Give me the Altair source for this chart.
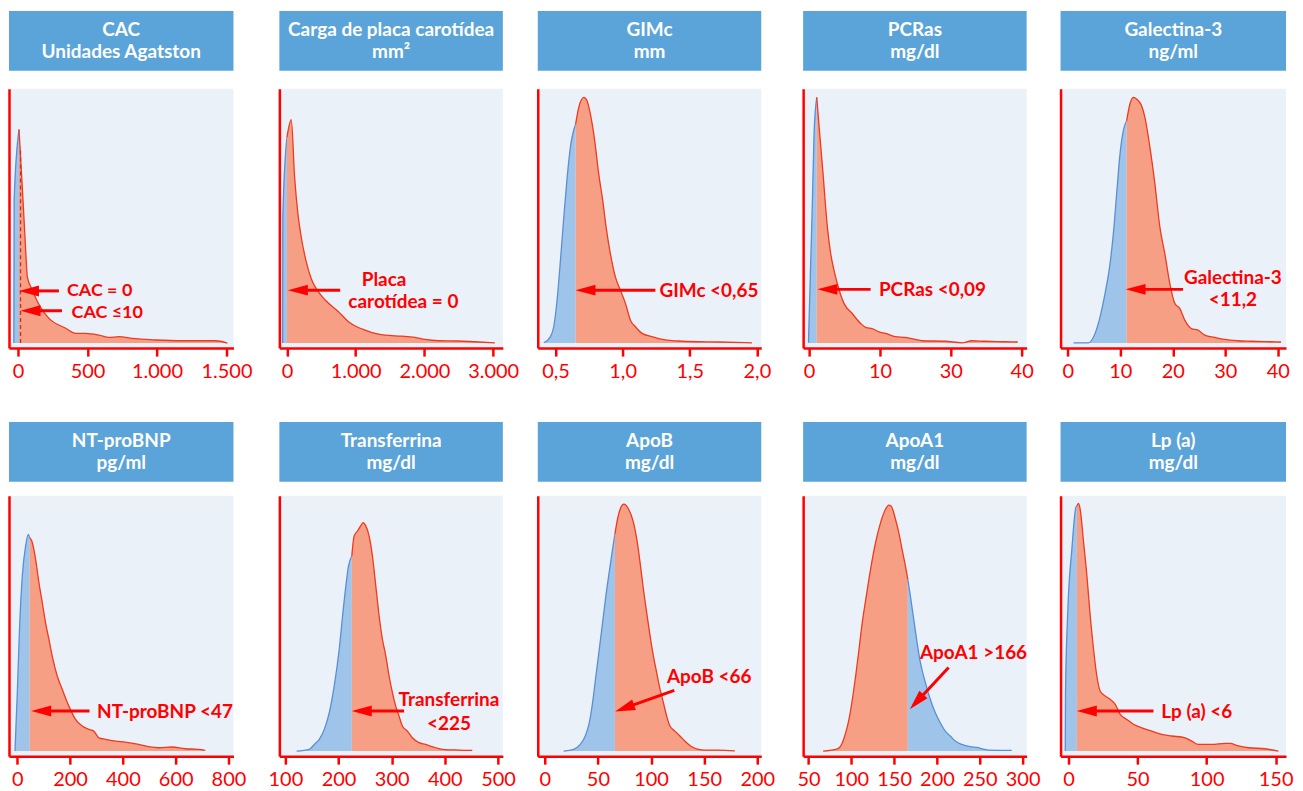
import math
import altair as alt
import pandas as pd

# ---------------- data ----------------
cac_x = [-30, -28, 7, 36, 55, 67, 103, 175, 223, 343, 415, 487, 583, 655, 727, 822, 991, 1183, 1422, 1506]
cac_y = [0, 56, 84, 56, 36.5, 26, 20.8, 12.9, 9.7, 5.8, 3.8, 3.8, 3.1, 2.2, 2.5, 1.8, 1.2, 0.9, 0.9, 0]

placa_x = [-62, -60, 0, 63, 112, 160, 208, 276, 354, 436, 557, 750, 896, 1016, 1138, 1283, 1428, 1669,
           1863, 2008, 2202, 2492, 2734, 3024]
placa_y = [0, 49.5, 80.9, 87.8, 65.2, 50.8, 41.7, 32.5, 25.3, 21, 16.9, 12.3, 8.4, 6.4, 5.1, 3.8, 3.1, 2.7,
           2.2, 1.4, 0.9, 0.8, 0.5, 0.1]

gimc_x = [0.413, 0.463, 0.487, 0.512, 0.537, 0.562, 0.587, 0.611, 0.65, 0.673, 0.711, 0.735, 0.760, 0.792,
          0.822, 0.852, 0.877, 0.909, 0.946, 0.983, 1.021, 1.058, 1.095, 1.145, 1.219, 1.318, 1.417, 1.566,
          1.715, 1.963]
gimc_y = [0.1, 2.5, 6.4, 16.9, 32.5, 49.5, 65.2, 77, 86.1, 92.6, 96.6, 95.3, 90, 79.6, 66.5, 56, 45.6, 35.1,
          26, 20.8, 15.6, 9, 6.4, 3.8, 2.5, 1.2, 0.8, 0.5, 0.4, 0.1]

# PCRas axis is not linear: positions 0,10,20,30 are labelled 0,10,30,40
pcr_x = [-0.09, 0.47, 0.70, 1.08, 1.50, 1.97, 2.58, 3.05, 3.52, 3.98, 4.92, 6.09, 7.27, 8.06, 8.91, 9.85,
         10.78, 12.19, 13.6, 15.0, 15.94, 19.22, 21.57, 22.97, 24.85, 27.66, 29.44]
pcr_y = [0.1, 56, 82.2, 96.6, 82.2, 66.5, 45.6, 35.1, 28.6, 23.4, 15.6, 11.6, 7.7, 6.1, 5.7, 4.4, 3.8, 2.5,
         2.2, 1.4, 0.9, 0.7, 0.1, 0.9, 0.7, 0.5, 0.4]

gal_x = [1.08, 3.93, 5.19, 6.14, 7.09, 8.04, 8.67, 9.30, 9.94, 10.57, 11.2, 11.83, 12.47, 13.42, 14.05,
         14.68, 15.63, 16.58, 17.53, 18.48, 19.43, 20.37, 21.32, 22.27, 23.54, 24.80, 26.07, 27.96, 29.86,
         32.39, 34.92, 38.72, 40.61]
gal_y = [0.1, 0.1, 3.8, 10.3, 19.5, 31.2, 43, 58.7, 74.4, 83.5, 87.4, 94, 96.6, 95.3, 93.3, 88.7, 77, 62.6,
         45.6, 35.1, 23.4, 15.6, 13.6, 9, 5.7, 5.1, 3.1, 2.2, 1.4, 0.9, 0.7, 0.5, 0.4]

bnp_x = [-8.7, 0.1, 8.9, 19, 31.6, 41.7, 47, 56.8, 69.4, 82, 94.6, 107, 119.8, 132.4, 151.3, 170.2, 195.4,
         220.6, 245.8, 271, 289.9, 308.8, 334, 371.8, 409.6, 459.9, 497.7, 535.5, 585.9, 636.3, 686.7, 711.9]
bnp_y = [0, 22.9, 49, 68.6, 80.4, 84.9, 83.6, 81.7, 75.1, 66, 58.2, 50.3, 43.8, 37.2, 29.4, 24.2, 17.6,
         12.4, 9.8, 8.5, 7.8, 5.2, 4.6, 3.9, 3.5, 2.6, 1.7, 1.3, 1.6, 0.9, 0.7, 0.3]

trf_x = [121.3, 145, 154.4, 163.8, 173.2, 182.6, 191.9, 201.3, 207.6, 213.8, 218.8, 225, 229.4, 235.7, 241,
         246.3, 251.3, 257.6, 263.8, 270.1, 276.4, 282.6, 288.9, 295.1, 301.4, 307.6, 313.9, 320.1, 329.5,
         338.9, 351.4, 363.9, 376.4, 395.2, 426.5, 451.5]
trf_y = [0, 0.7, 2.6, 4.6, 8.5, 15, 25.5, 39.9, 52.9, 64.7, 72.5, 76.4, 84.3, 86.2, 88, 89.5, 88.2, 84.2,
         76.4, 64.7, 52.9, 43.8, 37.3, 29.4, 22.9, 17.6, 13.7, 9.8, 7.8, 5.2, 3.3, 2.6, 1.7, 0.7, 0.4, 0.3]

apob_x = [17.8, 27.2, 33.4, 38.1, 41.9, 45, 48.1, 51.3, 54.4, 57.5, 60.6, 63.8, 66, 67.8, 71, 74.4, 78.8,
          83.5, 86.6, 89.7, 92.8, 95.9, 99.1, 102.2, 105.3, 108.5, 111.6, 114.7, 117.8, 122.5, 127.2, 131.9,
          136.6, 142.8, 150.7, 163.1, 178.8]
apob_y = [0, 0.7, 2.6, 5.9, 11.1, 19, 29.4, 39.9, 50.3, 60.8, 70, 79.1, 85, 89.5, 94.8, 96.7, 94.8, 89.5,
          83, 73.8, 63.4, 54.2, 45.1, 37.2, 30.7, 24.2, 19, 13.7, 9.8, 7.8, 5.9, 3.9, 2.2, 0.9, 0.4, 0.4, 0.1]

apoa_x = [67.1, 83.8, 89.6, 93.5, 97.3, 101.2, 105.1, 109, 112.8, 117.5, 122.5, 128.3, 134.2, 140, 143.8,
          146.5, 151.6, 155.5, 159.3, 163.2, 166, 169, 172.9, 176.8, 180.7, 186.5, 192.3, 198.1, 203.9,
          209.7, 215.5, 221.4, 229.1, 238.8, 248.5, 252.4, 260.1, 287.2]
apoa_y = [0, 0.9, 3.3, 7.2, 12.4, 20.2, 29.4, 39.8, 50.3, 60.7, 71.2, 81.6, 89.5, 94.7, 96.3, 96, 90.8,
          85.5, 79, 72.5, 67.2, 60.7, 51.6, 42.5, 34.6, 26.8, 20.2, 15, 11.1, 7.8, 5.9, 3.9, 2.6, 1.7, 1.3,
          0.9, 0.4, 0.3]

lpa_x = [-2.4, -2.2, -0.5, 2.4, 5.3, 6.0, 7.2, 8.4, 10.9, 13.3, 15.7, 18.1, 20.5, 22.9, 26.5, 30.1, 33.8,
         37.4, 42.2, 47, 53.1, 60.3, 67.5, 74.8, 84.4, 89.2, 94.1, 103.7, 113.4, 117, 123, 130.2, 142.3, 152]
lpa_y = [0, 22.9, 55.5, 79.1, 95.4, 96, 97, 94.8, 81.7, 68.6, 52.9, 39.9, 29.4, 23.5, 21.6, 20.3, 18.3,
         14.4, 12.4, 10.5, 9.1, 7.8, 6.5, 5.9, 5.2, 3.9, 2.6, 2.6, 3, 3, 2, 1.3, 0.9, 0]

headers = [
    ["CAC", "Unidades Agatston"], ["Carga de placa carotídea", "mm²"], ["GIMc", "mm"],
    ["PCRas", "mg/dl"], ["Galectina-3", "ng/ml"], ["NT-proBNP", "pg/ml"], ["Transferrina", "mg/dl"],
    ["ApoB", "mg/dl"], ["ApoA1", "mg/dl"], ["Lp (a)", "mg/dl"],
]

tick_values = [
    [0, 500, 1000, 1500], [0, 1000, 2000, 3000], [0.5, 1.0, 1.5, 2.0], [0, 10, 20, 30],
    [0, 10, 20, 30, 40], [0, 200, 400, 600, 800], [100, 200, 300, 400, 500], [0, 50, 100, 150, 200],
    [50, 100, 150, 200, 250, 300], [0, 50, 100, 150],
]
tick_labels = [
    ["0", "500", "1.000", "1.500"], ["0", "1.000", "2.000", "3.000"], ["0,5", "1,0", "1,5", "2,0"],
    ["0", "10", "30", "40"], ["0", "10", "20", "30", "40"], ["0", "200", "400", "600", "800"],
    ["100", "200", "300", "400", "500"], ["0", "50", "100", "150", "200"],
    ["50", "100", "150", "200", "250", "300"], ["0", "50", "100", "150"],
]

cutoffs = [7, 0, 0.65, 1.08, 11.2, 47, 225, 66, 166, 6.0]
left_is_blue = [True, True, True, True, True, True, True, True, False, True]

# annotations: arrows (tail_x, tail_y, tip_x, tip_y); labels (text, x, y, align, size)
arrows = [
    [(294, 20.5, 7, 20.5), (316, 12.7, 18, 12.7)],
    [(775, 20.8, 14.5, 20.8)],
    [(1.244, 20.8, 0.649, 20.8)],
    [(8.68, 21.1, 1.17, 21.1)],
    [(21.95, 21.1, 11.0, 21.1)],
    [(273.6, 15.7, 52.9, 15.7)],
    [(323.3, 15.7, 225, 15.7)],
    [(121.9, 23.8, 66.3, 15.5)],
    [(213.6, 32.7, 168.3, 16.4)],
    [(61.5, 15.7, 6.0, 15.7)],
]
labels = [
    [("CAC = 0", 352, 20.4, "left", 18), ("CAC ≤10", 385, 12.0, "left", 18)],
    [("Placa", 1413, 24.9, "center", 19), ("carotídea = 0", 1694, 16.0, "center", 19)],
    [("GIMc <0,65", 1.274, 20.4, "left", 19)],
    [("PCRas <0,09", 9.85, 20.7, "left", 19)],
    [("Galectina-3", 31.44, 25.7, "center", 19), ("<11,2", 31.44, 16.8, "center", 19)],
    [("NT-proBNP <47", 302.3, 15.3, "left", 19)],
    [("Transferrina", 407.7, 20.1, "center", 19), ("<225", 407.7, 10.5, "center", 19)],
    [("ApoB <66", 154.7, 29.0, "center", 19)],
    [("ApoA1 >166", 242.7, 38.6, "center", 19)],
    [("Lp (a) <6", 67.1, 15.3, "left", 19)],
]
cac_dash = {"x": 18, "y0": 0, "y1": 77}

curves = [(cac_x, cac_y), (placa_x, placa_y), (gimc_x, gimc_y), (pcr_x, pcr_y), (gal_x, gal_y),
          (bnp_x, bnp_y), (trf_x, trf_y), (apob_x, apob_y), (apoa_x, apoa_y), (lpa_x, lpa_y)]

# ---------------- layout / style ----------------
# x domains as measured in the reference, for the measured panel widths
x_domains_measured = [[-65, 1550], [-110, 3112], [0.368, 2.025], [-0.84, 30.7], [-1.39, 41.56],
                      [-31.4, 819], [88.7, 511], [-6.6, 203.7], [43.8, 304.7], [-5.8, 156.8]]
measured_w = [225, 222, 223, 224, 226, 225, 225, 224, 224, 225]
col_w = [225, 224, 224, 224, 226]          # panel column widths
gap_w = [45.5, 35, 41.5, 33.5]             # spacer column widths
plot_h = [260, 261]
head_top = [-78, -74]                      # header box top, relative to plot top
Y_DOMAIN = [-2, 100]

HDR = "#5ba4d9"
BG = "#eaf1f9"
BLUE_FILL = "#9fc4ea"
BLUE_LINE = "#5a8ed8"
SALMON = "#f69f85"
RED_LINE = "#ee3a1f"
RED = "#ff0000"
FONT = "Lato"
HEAD_PATH = "M0,0L2,-0.55L2,0.55Z"
HEAD_LEN = 20.0
HDR_SIZE = 19

one = pd.DataFrame({"a": [0]})


def panel_chart(i, r, c):
    W = col_w[c]
    H = plot_h[r]
    d0, d1 = x_domains_measured[i]
    k_meas = measured_w[i] / (d1 - d0)
    dom = [d0, d0 + W / k_meas]
    xs = alt.Scale(domain=dom, nice=False, zero=False)
    ys = alt.Scale(domain=Y_DOMAIN, nice=False, zero=False)
    expr = "".join(f"datum.value == {v} ? '{l}' : " for v, l in zip(tick_values[i], tick_labels[i])) + "datum.label"
    xaxis = alt.Axis(values=tick_values[i], labelExpr=expr, title=None, grid=False,
                     domainColor=RED, domainWidth=2.5, tickColor=RED, tickWidth=2.5, tickSize=8,
                     labelColor=RED, labelFont=FONT, labelFontSize=20, labelPadding=5,
                     labelOverlap=False, labelFlush=False, labelBound=False)
    yaxis = alt.Axis(title=None, grid=False, ticks=False, labels=False, domainColor=RED, domainWidth=2.5)

    def X(f):
        return alt.X(f, type="quantitative", scale=xs, axis=xaxis)

    def Y(f):
        return alt.Y(f, type="quantitative", scale=ys, axis=yaxis)

    cx, cy = curves[i]
    df = pd.DataFrame({"x": cx, "y": cy})
    cut = cutoffs[i]
    left = df[df.x <= cut + 1e-9]
    right = df[df.x >= cut - 1e-9]
    if left_is_blue[i]:
        lf, ll, rf, rl = BLUE_FILL, BLUE_LINE, SALMON, RED_LINE
    else:
        lf, ll, rf, rl = SALMON, RED_LINE, BLUE_FILL, BLUE_LINE

    def area(d, fill, line):
        return alt.Chart(d).mark_area(color=fill, opacity=1, interpolate="monotone",
                                      line={"color": line, "strokeWidth": 1.3}).encode(
            x=X("x"), y=Y("y"), y2=alt.datum(0))

    layers = [area(left, lf, ll), area(right, rf, rl)]

    if i == 0:
        dd = pd.DataFrame({"x": [cac_dash["x"]], "y0": [cac_dash["y0"]], "y1": [cac_dash["y1"]]})
        layers.append(alt.Chart(dd).mark_rule(color="#d8281a", strokeWidth=1.3, strokeDash=[4, 3]).encode(
            x=X("x"), y=Y("y0"), y2="y1"))

    kx = W / (dom[1] - dom[0])
    ky = H / (Y_DOMAIN[1] - Y_DOMAIN[0])
    rows = []
    for (tx0, ty0, px0, py0) in arrows[i]:
        dxp = (tx0 - px0) * kx
        dyp = -(ty0 - py0) * ky
        L = math.hypot(dxp, dyp)
        ux, uy = dxp / L, dyp / L
        ex = px0 + ux * HEAD_LEN * 0.6 / kx
        ey = py0 - uy * HEAD_LEN * 0.6 / ky
        ang = math.degrees(math.atan2(dyp, dxp)) % 360
        rows.append({"x1": tx0, "y1": ty0, "x2": ex, "y2": ey, "tx": px0, "ty": py0, "ang": ang})
    adf = pd.DataFrame(rows)
    layers.append(alt.Chart(adf).mark_rule(color=RED, strokeWidth=3).encode(
        x=X("x1"), y=Y("y1"), x2="x2", y2="y2"))
    layers.append(alt.Chart(adf).mark_point(shape=HEAD_PATH, filled=True, color=RED, opacity=1,
                                            size=HEAD_LEN ** 2, strokeWidth=0).encode(
        x=X("tx"), y=Y("ty"), angle=alt.Angle("ang:Q", scale=None)))

    groups = {}
    for (t, x, y, a, s) in labels[i]:
        groups.setdefault((a, s), []).append({"t": t, "x": x, "y": y})
    for (al, sz), items in groups.items():
        layers.append(alt.Chart(pd.DataFrame(items)).mark_text(
            align=al, baseline="middle", font=FONT, fontWeight="bold", fontSize=sz,
            color=RED).encode(x=X("x"), y=Y("y"), text="t:N"))

    # header box above the plot area
    ht = head_top[r]
    layers.append(alt.Chart(one).mark_rect(color=HDR).encode(
        x=alt.value(0), x2=alt.value(W), y=alt.value(ht), y2=alt.value(ht + 60)))
    for line, off in zip(headers[i], [19.5, 41]):
        layers.append(alt.Chart(one).mark_text(text=line, color="white", font=FONT, fontWeight="bold",
                                               fontSize=HDR_SIZE, baseline="middle", align="center").encode(
            x=alt.value(W / 2), y=alt.value(ht + off)))

    return alt.layer(*layers).properties(width=W, height=H,
                                         view=alt.ViewBackground(fill=BG, stroke=None))


def spacer(g, H):
    return alt.Chart(one).mark_point(opacity=0).encode(x=alt.value(0), y=alt.value(0)).properties(
        width=g, height=H)


cells = []
for r in range(2):
    for c in range(5):
        cells.append(panel_chart(r * 5 + c, r, c))
        if c < 4:
            cells.append(spacer(gap_w[c], plot_h[r]))

chart = alt.concat(*cells, columns=9, spacing={"row": 148, "column": 0}, bounds="flush").configure_view(
    stroke=None).properties(padding={"left": 1, "top": 2, "right": 2, "bottom": 0})

chart.save("out.html", embed_options={"renderer": "svg", "actions": False})
